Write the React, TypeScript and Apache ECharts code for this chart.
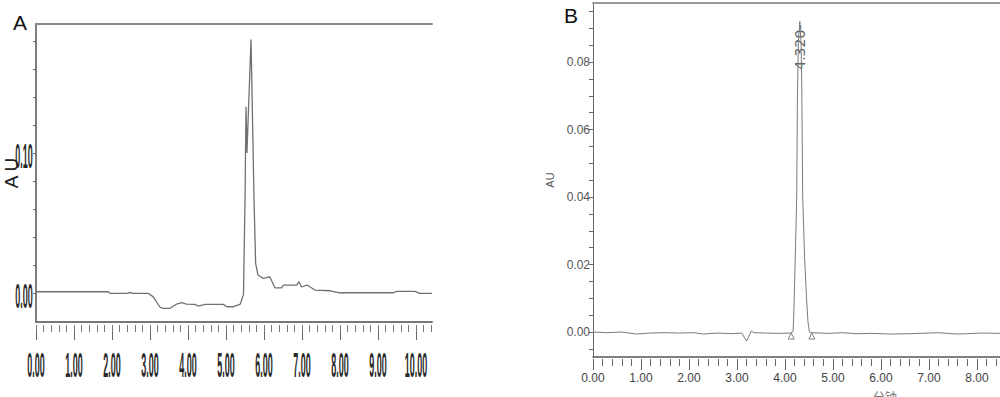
import React, { useEffect, useRef } from "react";
import * as echarts from "echarts";

// ---------- Panel A ----------
const aTime = [0, 1.9, 1.95, 2.4, 2.47, 2.55, 2.95, 3.08, 3.26, 3.35, 3.53, 3.7, 3.83, 3.96, 4.18, 4.27, 4.45, 4.93, 5.02, 5.19, 5.37, 5.41, 5.46, 5.49, 5.5, 5.526, 5.55, 5.658, 5.7, 5.737, 5.78, 5.84, 5.97, 6.07, 6.14, 6.17, 6.29, 6.46, 6.51, 6.86, 6.92, 6.99, 7.13, 7.34, 7.74, 7.96, 9.4, 9.49, 9.97, 10.1, 10.42];
const aAbs = [0.0009, 0.0009, -0.0002, -0.0002, 0.0005, -0.0002, -0.0002, -0.0026, -0.01, -0.0109, -0.0109, -0.0079, -0.0069, -0.0079, -0.0081, -0.0093, -0.0081, -0.0081, -0.0098, -0.0098, -0.0081, -0.005, -0.001, 0.05, 0.066, 0.133, 0.1, 0.181, 0.12, 0.066, 0.021, 0.0129, 0.0105, 0.011, 0.0117, 0.0105, 0.0036, 0.0036, 0.0057, 0.0057, 0.0081, 0.0043, 0.0057, 0.0021, 0.0016, 0.0002, 0.0002, 0.0012, 0.0012, -0.0002, -0.0002];
const aXMin = 0;
const aXMax = 10.42;
const aYMin = -0.0207;
const aYMax = 0.1921;
const aXMajor = [0, 1, 2, 3, 4, 5, 6, 7, 8, 9, 10];
const aXLabels = ["0.00", "1.00", "2.00", "3.00", "4.00", "5.00", "6.00", "7.00", "8.00", "9.00", "10.00"];
const aXMinor = [0, 0.2, 0.4, 0.6, 0.8, 1, 1.2, 1.4, 1.6, 1.8, 2, 2.2, 2.4, 2.6, 2.8, 3, 3.2, 3.4, 3.6, 3.8, 4, 4.2, 4.4, 4.6, 4.8, 5, 5.2, 5.4, 5.6, 5.8, 6, 6.2, 6.4, 6.6, 6.8, 7, 7.2, 7.4, 7.6, 7.8, 8, 8.2, 8.4, 8.6, 8.8, 9, 9.2, 9.4, 9.6, 9.8, 10, 10.2, 10.4];
const aYTicks = [0, 0.02, 0.04, 0.06, 0.08, 0.1, 0.12, 0.14, 0.16, 0.18];
const aYLabelVals = [0, 0.1];
const aYLabels = ["0.00", "0.10"];

// ---------- Panel B ----------
const bTime = [0, 0.3, 0.6, 0.9, 1.2, 1.5, 1.8, 2.1, 2.3, 2.6, 2.9, 3.1, 3.15, 3.2, 3.25, 3.3, 3.35, 3.6, 3.9, 4.12, 4.17, 4.19, 4.22, 4.245, 4.26, 4.28, 4.31, 4.335, 4.35, 4.37, 4.41, 4.45, 4.48, 4.51, 4.56, 4.9, 5.2, 5.5, 5.8, 6.2, 6.6, 7.0, 7.2, 7.58, 7.8, 8.1, 8.5, 8.8, 9.2];
const bAbs = [0, -0.0002, 0, -0.0006, -0.0003, -0.0002, -0.0003, -0.0002, -0.0006, -0.0003, -0.0005, -0.0003, -0.0015, -0.0027, -0.0012, 0.0003, -0.0002, -0.0003, -0.0004, -0.0003, 0.0002, 0.008, 0.025, 0.04, 0.07, 0.086, 0.092, 0.086, 0.074, 0.04, 0.022, 0.01, 0.003, 0, -0.0002, -0.0004, -0.0002, -0.0005, -0.0004, -0.0006, -0.0005, -0.0003, -0.0002, -0.0006, -0.0005, -0.0003, -0.0004, -0.0003, -0.0004];
const bMarkTime = [4.13, 4.56];
const bMarkAbs = [-0.0012, -0.0012];
const bPeakTime = [4.32];
const bPeakLabelAbs = [0.0844];
const bPeakText = "4.320-";
const bXMin = 0;
const bXMax = 12.17;
const bYMin = -0.0074;
const bYMax = 0.0975;
const bXMajor = [0, 1, 2, 3, 4, 5, 6, 7, 8, 9, 10, 11, 12];
const bXLabelVals = [0, 1, 2, 3, 4, 5, 6, 7, 8];
const bXLabels = ["0.00", "1.00", "2.00", "3.00", "4.00", "5.00", "6.00", "7.00", "8.00"];
const bXMinor = [0, 0.2, 0.4, 0.6, 0.8, 1, 1.2, 1.4, 1.6, 1.8, 2, 2.2, 2.4, 2.6, 2.8, 3, 3.2, 3.4, 3.6, 3.8, 4, 4.2, 4.4, 4.6, 4.8, 5, 5.2, 5.4, 5.6, 5.8, 6, 6.2, 6.4, 6.6, 6.8, 7, 7.2, 7.4, 7.6, 7.8, 8, 8.2, 8.4, 8.6, 8.8, 9, 9.2, 9.4];
const bYTicks = [-0.005, 0, 0.005, 0.01, 0.015, 0.02, 0.025, 0.03, 0.035, 0.04, 0.045, 0.05, 0.055, 0.06, 0.065, 0.07, 0.075, 0.08, 0.085, 0.09, 0.095];
const bYLabelVals = [0, 0.02, 0.04, 0.06, 0.08];
const bYLabels = ["0.00", "0.02", "0.04", "0.06", "0.08"];

const zip = (xs: number[], ys: number[]) => xs.map((x, i) => [x, ys[i]]);

const hidden = { show: false };
const lineOnly = (color: string, width: number) => ({ show: true, onZero: false, lineStyle: { color, width } });
const noLine = { show: false, onZero: false };

function buildOption(): any {
  return {
    animation: false,
    backgroundColor: "#ffffff",
    grid: [
      { left: 36, top: 24, width: 396, height: 298, outerBoundsMode: "none" },
      { left: 593, top: 3, right: -177, height: 354, outerBoundsMode: "none" },
    ],
    xAxis: [
      {
        gridIndex: 0, type: "value", min: aXMin, max: aXMax, position: "bottom",
        axisLine: lineOnly("#777", 2),
        axisTick: hidden, axisLabel: hidden, splitLine: hidden,
      },
      {
        gridIndex: 0, type: "value", min: aXMin, max: aXMax, position: "bottom", offset: 3,
        axisLine: noLine, axisLabel: hidden, splitLine: hidden,
        axisTick: { show: true, customValues: aXMajor, length: 15, lineStyle: { color: "#666", width: 1 } },
      },
      {
        gridIndex: 0, type: "value", min: aXMin, max: aXMax, position: "bottom", offset: 3,
        axisLine: noLine, axisLabel: hidden, splitLine: hidden,
        axisTick: { show: true, customValues: aXMinor, length: 7, lineStyle: { color: "#777", width: 1 } },
      },
      {
        gridIndex: 0, type: "value", min: aXMin, max: aXMax, position: "top",
        axisLine: lineOnly("#888", 2),
        axisTick: hidden, axisLabel: hidden, splitLine: hidden,
      },
      {
        gridIndex: 1, type: "value", min: bXMin, max: bXMax, position: "bottom",
        axisLine: lineOnly("#555", 1.5),
        axisTick: hidden, axisLabel: hidden, splitLine: hidden,
        name: "分钟", nameLocation: "middle", nameGap: 33,
        nameTextStyle: { fontSize: 12, color: "#777", fontFamily: "Noto Sans CJK SC" },
      },
      {
        gridIndex: 1, type: "value", min: bXMin, max: bXMax, position: "bottom", offset: 2,
        axisLine: noLine, splitLine: hidden,
        axisTick: { show: true, customValues: bXMajor, length: 11, lineStyle: { color: "#555", width: 1 } },
        axisLabel: {
          show: true, customValues: bXLabelVals, margin: 13,
          formatter: (v: number) => bXLabels[bXLabelVals.indexOf(v)] ?? "",
          fontSize: 12, color: "#444", fontFamily: "Liberation Sans",
        },
      },
      {
        gridIndex: 1, type: "value", min: bXMin, max: bXMax, position: "bottom", offset: 2,
        axisLine: noLine, axisLabel: hidden, splitLine: hidden,
        axisTick: { show: true, customValues: bXMinor, length: 7, lineStyle: { color: "#666", width: 1 } },
      },
      {
        gridIndex: 1, type: "value", min: bXMin, max: bXMax, position: "top",
        axisLine: lineOnly("#999", 2),
        axisTick: hidden, axisLabel: hidden, splitLine: hidden,
      },
    ],
    yAxis: [
      {
        gridIndex: 0, type: "value", min: aYMin, max: aYMax,
        axisLine: lineOnly("#555", 1.5),
        axisTick: { show: true, customValues: aYTicks, length: 3, lineStyle: { color: "#666" } },
        axisLabel: hidden, splitLine: hidden,
        name: "A U", nameLocation: "middle", nameRotate: 90, nameGap: 15,
        nameTextStyle: { fontSize: 19, color: "#222", fontFamily: "Liberation Sans", padding: [0, 0, 0, 0] },
      },
      {
        gridIndex: 1, type: "value", min: bYMin, max: bYMax,
        axisLine: lineOnly("#666", 1),
        axisTick: { show: true, customValues: bYTicks, length: 4, lineStyle: { color: "#666" } },
        axisLabel: {
          show: true, customValues: bYLabelVals, margin: 3,
          formatter: (v: number) => bYLabels[bYLabelVals.indexOf(v)] ?? "",
          fontSize: 12, color: "#555", fontFamily: "Liberation Sans",
        },
        splitLine: hidden,
        name: "AU", nameLocation: "middle", nameRotate: 90, nameGap: 28,
        nameTextStyle: { fontSize: 11, color: "#555", fontFamily: "Liberation Sans" },
      },
    ],
    series: [
      {
        type: "line", xAxisIndex: 0, yAxisIndex: 0, data: zip(aTime, aAbs),
        showSymbol: false, symbol: "none",
        lineStyle: { color: "#707070", width: 1.3 },
      },
      {
        type: "line", xAxisIndex: 4, yAxisIndex: 1, data: zip(bTime, bAbs),
        showSymbol: false, symbol: "none",
        lineStyle: { color: "#7a7a7a", width: 1 },
      },
      {
        type: "scatter", xAxisIndex: 4, yAxisIndex: 1, data: zip(bMarkTime, bMarkAbs),
        symbol: "triangle", symbolSize: 6,
        itemStyle: { color: "#ffffff", borderColor: "#666", borderWidth: 1 },
      },
      {
        type: "scatter", xAxisIndex: 4, yAxisIndex: 1, data: zip(bPeakTime, bPeakLabelAbs),
        symbolSize: 1, itemStyle: { color: "transparent" },
        label: {
          show: true, position: "inside", rotate: 90, formatter: bPeakText,
          fontSize: 14, fontFamily: "DejaVu Sans", color: "#333",
        },
      },
    ],
  };
}

export default function App() {
  const ref = useRef<HTMLDivElement>(null);
  useEffect(() => {
    if (!ref.current) return;
    const chart = echarts.init(ref.current, null, { renderer: "svg" });
    chart.setOption(buildOption());

    const bottomA = chart.convertToPixel({ yAxisIndex: 0 }, aYMin) as number;
    const leftA = chart.convertToPixel({ xAxisIndex: 0 }, aXMin) as number;
    const squeezed = {
      fontSize: 20, fontWeight: "bold", fontFamily: "Liberation Sans", fill: "#2a2a2a",
      align: "center", verticalAlign: "middle",
    };
    const graphics: any[] = [
      { type: "text", x: 20, y: 22, style: { text: "A", fontSize: 21, fontFamily: "Liberation Sans", fill: "#111", align: "center", verticalAlign: "middle" } },
      { type: "text", x: 571, y: 15, style: { text: "B", fontSize: 21, fontFamily: "Liberation Sans", fill: "#111", align: "center", verticalAlign: "middle" } },
    ];
    aXMajor.forEach((v, i) => {
      const px = chart.convertToPixel({ xAxisIndex: 0 }, v) as number;
      graphics.push({
        type: "text", x: px, y: bottomA + 43, scaleX: 0.45, scaleY: 1.8,
        style: { ...squeezed, text: aXLabels[i] },
      });
    });
    aYLabelVals.forEach((v, i) => {
      const py = chart.convertToPixel({ yAxisIndex: 0 }, v) as number;
      graphics.push({
        type: "text", x: leftA - 12, y: py + 3, scaleX: 0.45, scaleY: 1.8,
        style: { ...squeezed, text: aYLabels[i] },
      });
    });
    chart.setOption({ graphic: graphics });
    return () => chart.dispose();
  }, []);
  return (
    <div
      ref={ref}
      style={{ position: "fixed", left: 0, top: 0, width: 1000, height: 397, background: "#fff" }}
    />
  );
}
